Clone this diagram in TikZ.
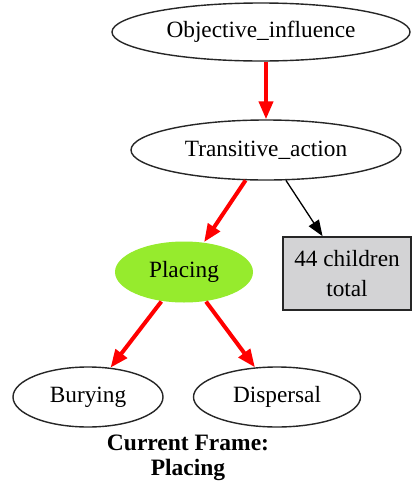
\documentclass[tikz,border=0pt]{standalone}
\usepackage{fontspec}
\setmainfont{Liberation Serif}
\usetikzlibrary{shapes.geometric,arrows.meta}
\definecolor{placegreen}{RGB}{150,235,45}
\definecolor{boxgray}{RGB}{211,211,213}
\tikzset{
  ell/.style={ellipse,draw=black!85,line width=1.4pt,inner sep=0pt,font=\fontsize{23.3}{28}\selectfont},
  redarrow/.style={draw=red,line width=4pt,-{Triangle[length=18pt,width=14pt]}},
  blackarrow/.style={draw=black,line width=1.3pt,-{Triangle[length=16pt,width=12pt]}},
  graybox/.style={rectangle,draw=black!85,fill=boxgray,line width=1.6pt,minimum width=128pt,minimum height=73pt,align=center,inner sep=0pt,font=\fontsize{23.3}{30}\selectfont},
  caption/.style={align=center,font=\bfseries\fontsize{23.5}{25.5}\selectfont}
}
\begin{document}
\begin{tikzpicture}[x=1pt,y=-1pt]
\useasboundingbox[fill=white] (0,0) rectangle (412,488);
\node[ell,minimum width=298pt,minimum height=58pt] (obj) at (261,32) {Objective\_influence};
\node[ell,minimum width=270pt,minimum height=60pt] (trans) at (266,150) {Transitive\_action};
\node[ell,draw=none,fill=placegreen,minimum width=138pt,minimum height=61pt] (plac) at (184,272) {Placing};
\node[graybox] (box) at (347,273.5) {44 children\\total};
\node[ell,minimum width=150pt,minimum height=60pt] (bury) at (88,397) {Burying};
\node[ell,minimum width=167pt,minimum height=60pt] (disp) at (277,397) {Dispersal};
\node[caption] (cap) at (188,458) {Current Frame:\\Placing};
\draw[redarrow] (obj.south -| trans.north) -- (trans.north);
\draw[redarrow] (trans) -- (plac);
\draw[blackarrow] (trans) -- (box);
\draw[redarrow] (plac) -- (bury);
\draw[redarrow] (plac) -- (disp);
\end{tikzpicture}
\end{document}
